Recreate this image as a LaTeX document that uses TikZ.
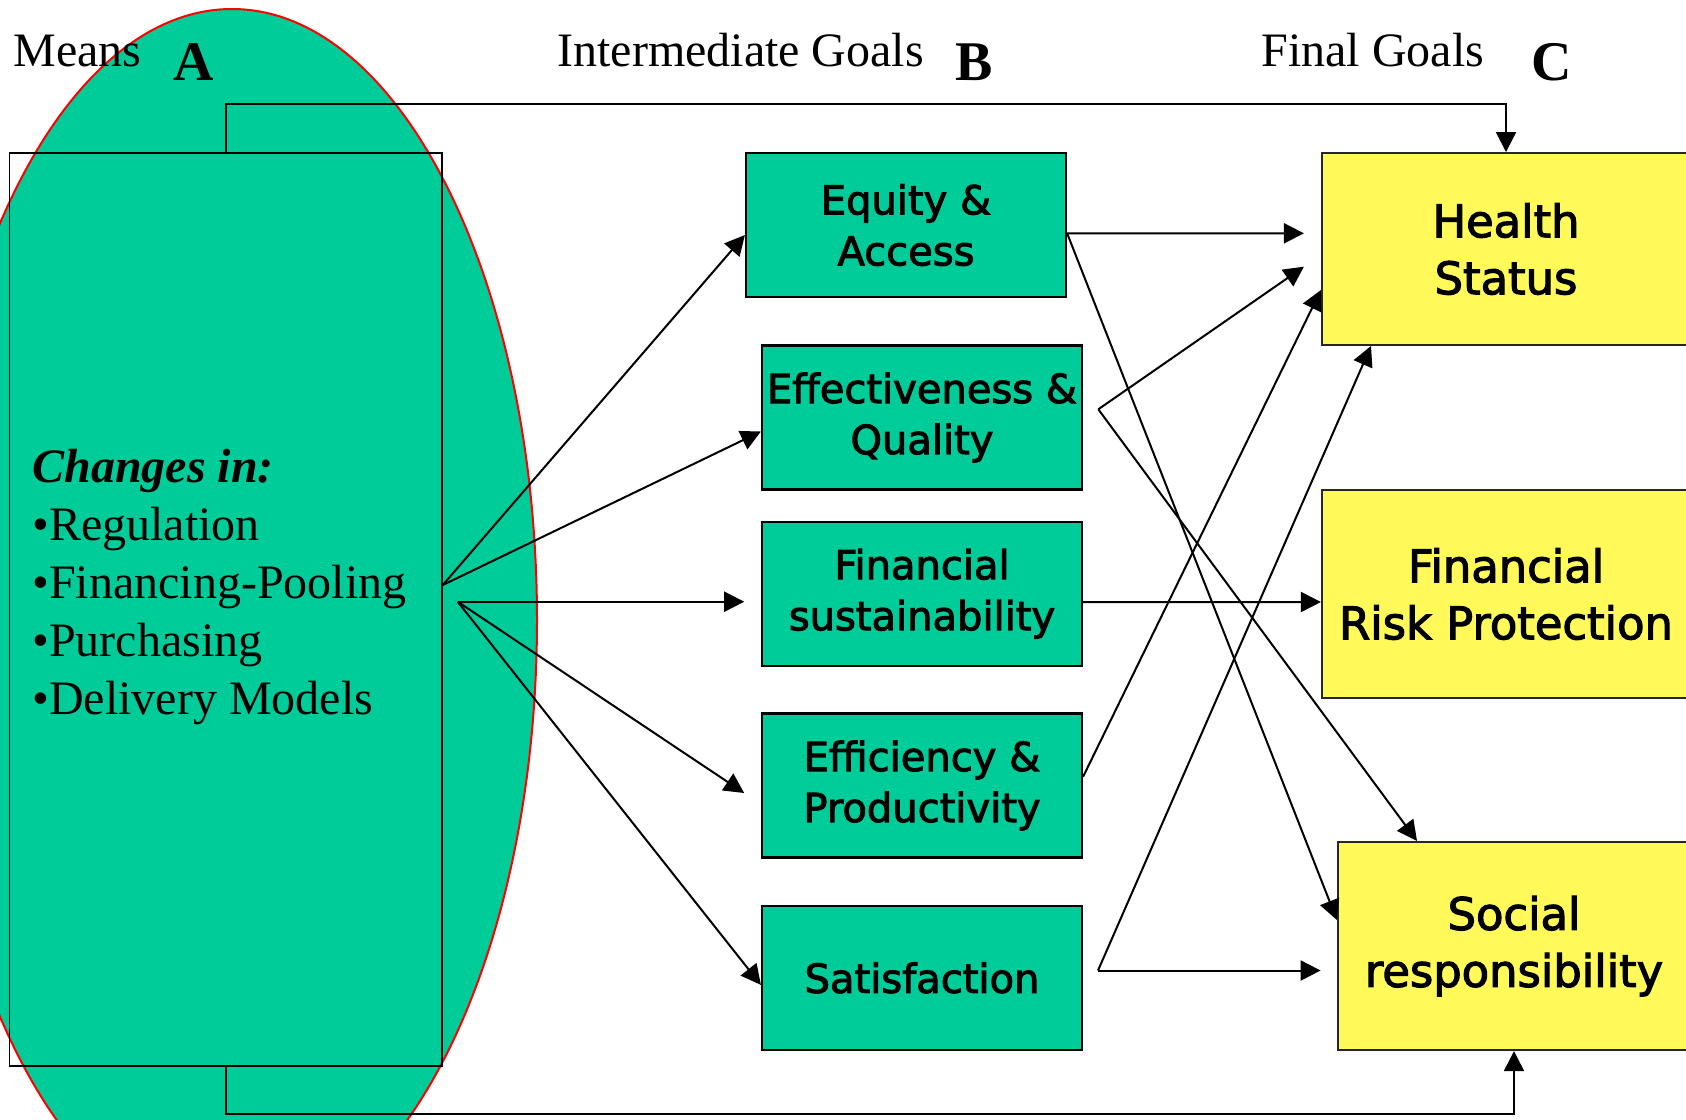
\documentclass[tikz,border=0pt]{standalone}
\usepackage{fontspec}
\setmainfont{Liberation Serif}
\newfontfamily\boxfont{DejaVu Sans}[FakeBold=2.5]
\usetikzlibrary{arrows.meta,calc}
\definecolor{meansgreen}{RGB}{0,204,153}
\definecolor{goalyellow}{RGB}{255,250,90}

\begin{document}
\begin{tikzpicture}[x=0.5pt,y=-0.5pt,
  conn/.style={line width=1pt,-{Triangle[length=10pt,width=10pt]}},
  midgoal/.style={draw,line width=1.1pt,fill=meansgreen,minimum width=160pt,
    minimum height=72pt,inner sep=0pt,align=center,
    font=\boxfont\fontsize{20}{25.5}\selectfont},
  finalgoal/.style={draw=black!85,line width=1.1pt,fill=goalyellow,
    minimum height=104pt,inner sep=0pt,align=center,
    font=\boxfont\fontsize{22.4}{28.5}\selectfont},
  heading/.style={anchor=base west,inner sep=0pt,font=\fontsize{24}{29}\selectfont},
  letter/.style={anchor=base,inner sep=0pt,font=\bfseries\fontsize{28}{34}\selectfont}]

\useasboundingbox (0,0) rectangle (1686,1119);
\clip (0,0) rectangle (1686,1119);

% the "means" oval and its frame
\draw[red,line width=1pt,fill=meansgreen] (232,620) ellipse [x radius=152.5pt,y radius=305.5pt];
\node[draw,line width=0.8pt,minimum width=216.2pt,minimum height=456.5pt,inner sep=0pt] (means) at (225.8,609.5) {};
\node[anchor=base west,inner sep=0pt,font=\fontsize{24}{29}\selectfont] (changes) at (32,482)
  {\begin{tabular}[t]{@{}l@{}}\textbf{\textit{Changes in:}}\\ •Regulation\\ •Financing-Pooling\\ •Purchasing\\ •Delivery Models\end{tabular}};

% column headings
\node[heading] (meanslbl) at (13,66) {Means};
\node[heading] (interlbl) at (557,66) {Intermediate Goals};
\node[heading] (finallbl) at (1261,66) {Final Goals};
\node[letter] (la) at (194,80) {A};
\node[letter] (lb) at (974,80) {B};
\node[letter] (lc) at (1552,80) {C};

% intermediate goals
\node[midgoal] (eq) at (906,225) {Equity \&\\Access};
\node[midgoal] (eff) at (922,417.5) {Effectiveness \&\\Quality};
\node[midgoal] (fin) at (922,593.7) {Financial\\sustainability};
\node[midgoal] (effi) at (922,785.5) {Efficiency \&\\Productivity};
\node[midgoal] (sat) at (922,977.9) {Satisfaction};

% final goals
\node[finalgoal,minimum width=184pt,minimum height=95.85pt] (health) at (1506,249) {Health\\Status};
\node[finalgoal,minimum width=184pt] (risk) at (1506,594) {Financial\\Risk Protection};
\node[finalgoal,minimum width=176pt] (social) at (1514,946) {Social\\responsibility};

% fan-out points
\coordinate (s1) at ($(means.east)+(0,-24.5)$);
\coordinate (s2) at (457.7,601.7);
\coordinate (v1) at (1098.3,409.3);
\coordinate (v2) at (1098,970.5);

% means -> intermediate goals
\draw[conn] (s1) -- ($(eq.west)+(0,10)$);
\draw[conn] (s1) -- ($(eff.west)+(0,14)$);
\draw[conn] (s2) -- ($(fin.west)+(-16.7,8)$);
\draw[conn] (s2) -- ($(effi.west)+(-16.7,7.5)$);
\draw[conn] (s2) -- ($(sat.west)+(0,7)$);

% intermediate goals -> final goals
\draw[conn] ($(eq.east)+(0,8.3)$) -- ($(health.west)+(-17,-15.7)$);
\draw[conn] ($(eq.east)+(0,8.3)$) -- ($(social.west)+(0,-26)$);
\draw[conn] (v1) -- ($(health.west)+(-17,17.7)$);
\draw[conn] (v1) -- ($(social.north)+(-97,0)$);
\draw[conn] ($(fin.east)+(0,8.3)$) -- ($(risk.west)+(0,8)$);
\draw[conn] ($(effi.east)+(0,-8.8)$) -- ($(health.west)+(0,41)$);
\draw[conn] (v2) -- ($(social.west)+(-16.3,24.5)$);
\draw[conn] (v2) -- ($(health.south)+(-135,0)$);

% direct links from means to final goals
\draw[conn] (means.north) -- ++(0,-48) -| (health.north);
\draw[conn] (means.south) -- ++(0,47) -| (social.south);
\end{tikzpicture}
\end{document}
